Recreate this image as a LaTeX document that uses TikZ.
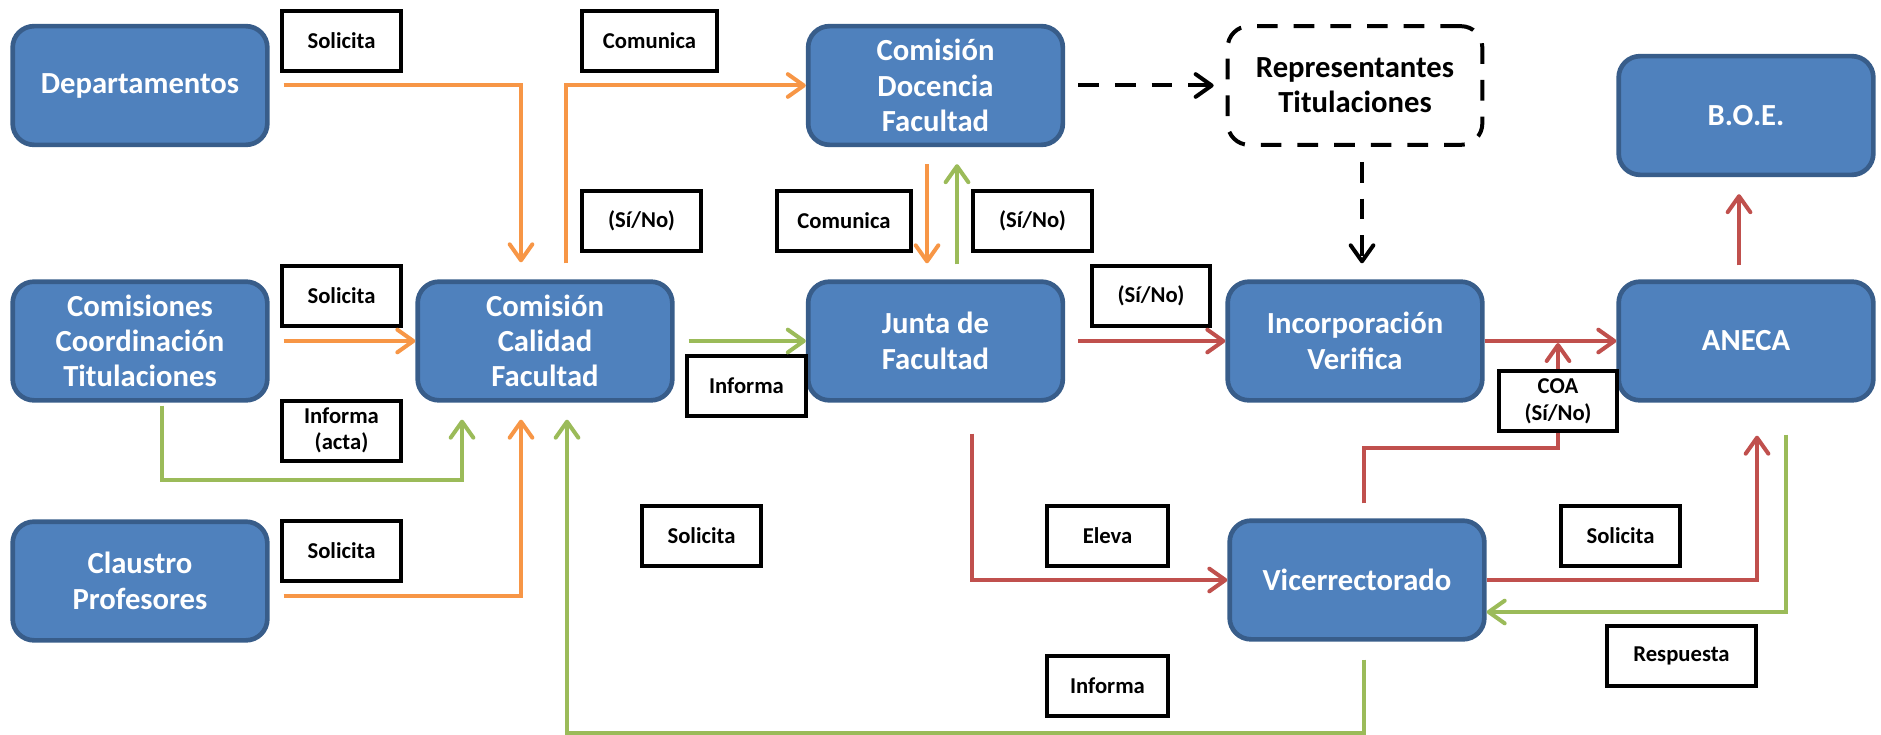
\documentclass[tikz,border=0pt]{standalone}
\usepackage{fontspec}
\setmainfont{Carlito}
\usetikzlibrary{arrows.meta,calc}
\definecolor{boxblue}{HTML}{4F81BD}
\definecolor{boxedge}{HTML}{385D8A}
\definecolor{floworange}{HTML}{F79646}
\definecolor{flowgreen}{HTML}{9BBB59}
\definecolor{flowred}{HTML}{C0504D}
\tikzset{>={Straight Barb[length=12pt,width=17pt,round]},
    bluebox/.style={draw=boxedge, fill=boxblue, line width=3.5pt, rounded corners=16pt,
        minimum width=191pt, minimum height=89pt, inner sep=2pt, text=white, align=center,
        font=\bfseries\fontsize{23}{26.5}\selectfont},
    dashbox/.style={bluebox, draw=black, fill=white, text=black, line width=3pt,
        dash pattern=on 15.5pt off 12pt},
    labelbox/.style={draw=black, fill=white, line width=3pt, minimum width=89pt,
        minimum height=45pt, inner sep=2pt, align=center,
        font=\bfseries\fontsize{17}{20}\selectfont},
    orangeline/.style={draw=floworange, line width=3pt, ->},
    greenline/.style={draw=flowgreen, line width=3pt, ->},
    redline/.style={draw=flowred, line width=3pt, ->},
    dashline/.style={draw=black, line width=3pt, dash pattern=on 15.5pt off 12pt, ->}}
\begin{document}
\begin{tikzpicture}[x=0.75pt, y=-0.75pt]
    \useasboundingbox (0,0) rectangle (1881,735);
    \node (dep) at (140,85.5) [bluebox] {Departamentos};
    \node (cct) at (140,341) [bluebox] {Comisiones\\Coordinación\\Titulaciones};
    \node (cla) at (140,581) [bluebox] {Claustro\\Profesores};
    \node (cal) at (545,341) [bluebox] {Comisión\\Calidad\\Facultad};
    \node (doc) at (935.5,85.5) [bluebox] {Comisión\\Docencia\\Facultad};
    \node (jun) at (935.5,341) [bluebox] {Junta de\\Facultad};
    \node (rep) at (1355,85.5) [dashbox] {Representantes\\Titulaciones};
    \node (inc) at (1355,341) [bluebox] {Incorporación\\Verifica};
    \node (vic) at (1357,580) [bluebox] {Vicerrectorado};
    \node (boe) at (1746,115.5) [bluebox] {B.O.E.};
    \node (ane) at (1746,341) [bluebox] {ANECA};

    \node (sol1) at (341.5,41) [labelbox] {Solicita};
    \node (com1) at (649.5,41) [labelbox, minimum width=101pt] {Comunica};
    \node (si1) at (641.5,220.5) [labelbox] {(Sí/No)};
    \node (com2) at (844,220.5) [labelbox, minimum width=101pt] {Comunica};
    \node (si2) at (1032.5,220.5) [labelbox] {(Sí/No)};
    \node (sol2) at (341.5,295.5) [labelbox] {Solicita};
    \node (inf1) at (341.5,430.5) [labelbox] {Informa\\(acta)};
    \node (sol3) at (341.5,550.5) [labelbox] {Solicita};
    \node (inf2) at (746.5,386) [labelbox] {Informa};
    \node (si3) at (1151,295.5) [labelbox] {(Sí/No)};
    \node (sol4) at (701.5,535.5) [labelbox] {Solicita};
    \node (ele) at (1107.5,536) [labelbox, minimum width=91pt] {Eleva};
    \node (inf3) at (1107.5,686) [labelbox, minimum width=91pt] {Informa};
    \node (coa) at (1558,401) [labelbox] {COA\\(Sí/No)};
    \node (sol5) at (1620.5,536) [labelbox] {Solicita};
    \node (res) at (1681.5,656) [labelbox, minimum width=112pt] {Respuesta};

    \draw[orangeline] ($(dep.east)+(14,0)$) -| ($(cal.north)+(-24,-17)$);
    \draw[orangeline] ($(cal.north)+(21,-16)$) |- (doc.west);
    \draw[orangeline] ($(cct.east)+(14,0)$) -- (cal.west);
    \draw[greenline] ($(cct.south)+(22,3)$) -- ++(0,74) -| ($(cal.south)+(-83,17)$);
    \draw[orangeline] ($(cla.east)+(14,15)$) -| ($(cal.south)+(-24,17)$);
    \draw[greenline] ($(vic.south)+(7,18)$) -- ++(0,73) -| ($(cal.south)+(22,17)$);
    \draw[greenline] ($(cal.east)+(14,0)$) -- (jun.west);
    \draw[orangeline] ($(doc.south)+(-8.5,17)$) -- ($(jun.north)+(-8.5,-16)$);
    \draw[greenline] ($(jun.north)+(21.5,-15)$) -- ($(doc.south)+(21.5,17)$);
    \draw[dashline] ($(doc.east)+(13,0)$) -- ($(rep.west)+(-12,0)$);
    \draw[dashline] ($(rep.south)+(7,15)$) -- ($(inc.north)+(7,-16)$);
    \draw[redline] ($(jun.east)+(13,0)$) -- (inc.west);
    \draw[redline] ($(jun.south)+(36.5,31)$) |- (vic.west);
    \draw[redline] (inc.east) -- (ane.west);
    \draw[redline, -] ($(vic.north)+(7,-15)$) |- ($(coa.south)+(0,15)$) -- (coa.south);
    \draw[redline] (coa.north) -- ($(coa.north |- ane.west)+(0,2)$);
    \draw[redline] (vic.east) -| ($(ane.south)+(11,33)$);
    \draw[greenline] ($(ane.south)+(40,32)$) |- ($(vic.east)+(0,32)$);
    \draw[redline] ($(ane.north)+(-7,-14)$) -- ($(boe.south)+(-7,17)$);
\end{tikzpicture}
\end{document}
